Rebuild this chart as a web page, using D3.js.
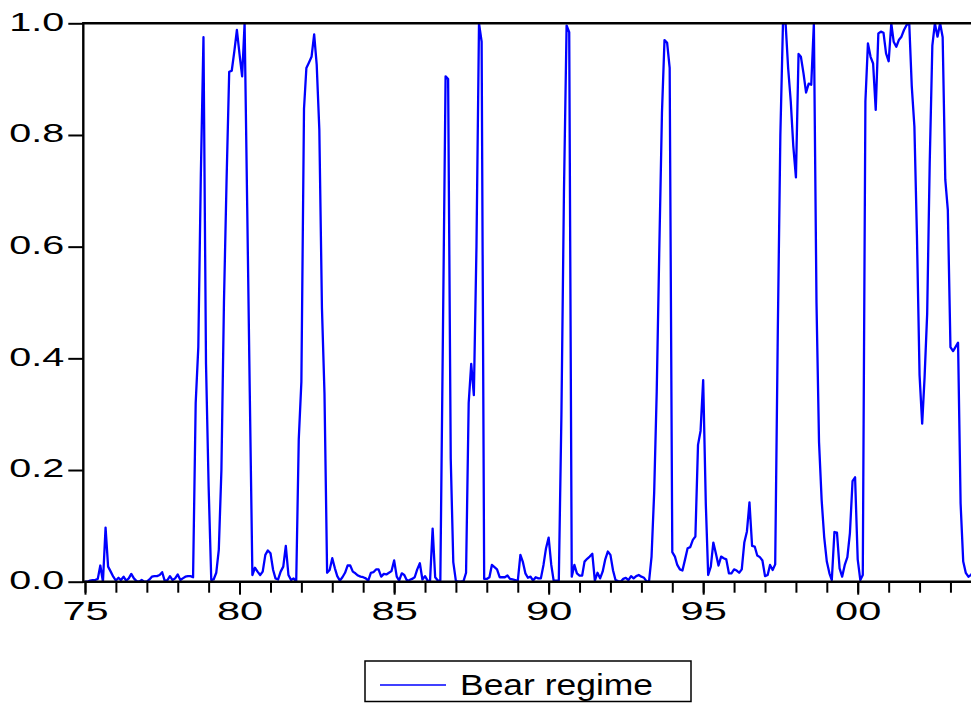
<!DOCTYPE html>
<html>
<head>
<meta charset="utf-8">
<script src="https://cdn.jsdelivr.net/npm/d3@7"></script>
<style>
  body { margin: 0; background: #fff; }
  text { font-family: "Liberation Sans", Arial, sans-serif; fill: #000; }
</style>
</head>
<body>
<svg id="chart" width="971" height="704"></svg>
<script>
let svg = d3.select('#chart');

// Smoothed probability of the bear regime, monthly from 1975M1
let startYear = 1975;
let bearProb = [
  0, 0, 0.002, 0.003, 0.003, 0.005, 0.029, 0, 0.097, 0.027, 0.018, 0.009,            // 1975
  0.002, 0.007, 0.003, 0.009, 0.002, 0.006, 0.014, 0.006, 0.001, 0, 0.003, 0,        // 1976
  0, 0.004, 0.009, 0.01, 0.01, 0.012, 0.017, 0.001, 0.003, 0.01, 0.003, 0.006,       // 1977
  0.013, 0.003, 0.006, 0.009, 0.01, 0.01, 0.008, 0.32, 0.42, 0.73, 0.975, 0.39,      // 1978
  0.17, 0.003, 0.004, 0.016, 0.057, 0.2, 0.5, 0.72, 0.913, 0.915, 0.95, 0.988,       // 1979
  0.945, 0.905, 1.0, 0.67, 0.34, 0.012, 0.025, 0.018, 0.012, 0.018, 0.048, 0.056,   // 1980
  0.051, 0.021, 0.006, 0.004, 0.018, 0.027, 0.064, 0.012, 0.003, 0.006, 0, 0.255,    // 1981
  0.358, 0.847, 0.92, 0.93, 0.94, 0.98, 0.926, 0.81, 0.49, 0.337, 0.016, 0.021,      // 1982
  0.042, 0.024, 0.01, 0.002, 0.008, 0.016, 0.029, 0.029, 0.018, 0.015, 0.011, 0.009, // 1983
  0.008, 0.006, 0.002, 0.016, 0.017, 0.022, 0.022, 0.009, 0.014, 0.013, 0.016, 0.019, // 1984
  0.038, 0.009, 0.002, 0.015, 0.012, 0.002, 0.003, 0.005, 0.008, 0.022, 0.033, 0.004, // 1985
  0.01, 0.002, 0.001, 0.095, 0.008, 0.002, 0.002, 0.45, 0.905, 0.9, 0.22, 0.035,     // 1986
  0.001, 0, 0, 0.001, 0.016, 0.32, 0.39, 0.334, 0.6, 1.0, 0.967, 0.005,              // 1987
  0.005, 0.008, 0.03, 0.026, 0.022, 0.008, 0.008, 0.008, 0.011, 0.005, 0.004, 0.003, // 1988
  0.001, 0.048, 0.036, 0.015, 0.007, 0.009, 0.002, 0.008, 0.006, 0.006, 0.03, 0.06,  // 1989
  0.079, 0.03, 0.002, 0.002, 0.002, 0.3, 0.7, 0.996, 0.984, 0.009, 0.03, 0.015,      // 1990
  0.011, 0.011, 0.036, 0.041, 0.045, 0.05, 0.002, 0.016, 0.006, 0.018, 0.04, 0.054,  // 1991
  0.048, 0.02, 0.003, 0.001, 0, 0.005, 0.007, 0.003, 0.01, 0.006, 0.01, 0.012,       // 1992
  0.009, 0.007, 0.001, 0, 0.045, 0.16, 0.34, 0.6, 0.84, 0.97, 0.965, 0.92,           // 1993
  0.053, 0.045, 0.03, 0.022, 0.02, 0.04, 0.06, 0.062, 0.075, 0.081, 0.245, 0.27,     // 1994
  0.361, 0.14, 0.012, 0.027, 0.07, 0.05, 0.029, 0.045, 0.042, 0.04, 0.015, 0.015,    // 1995
  0.022, 0.02, 0.016, 0.022, 0.07, 0.09, 0.142, 0.064, 0.063, 0.047, 0.044, 0.038,   // 1996
  0.01, 0.012, 0.03, 0.021, 0.031, 0.45, 0.8, 1.0, 1.0, 0.92, 0.86, 0.78,            // 1997
  0.724, 0.945, 0.94, 0.91, 0.876, 0.892, 0.89, 1.0, 0.5, 0.25, 0.146, 0.08,         // 1998
  0.036, 0.015, 0.003, 0.089, 0.088, 0.024, 0.009, 0.03, 0.044, 0.087, 0.18, 0.187,  // 1999
  0.04, 0.003, 0.012, 0.86, 0.964, 0.94, 0.928, 0.845, 0.982, 0.985, 0.983, 0.946,   // 2000
  0.932, 1.0, 0.967, 0.958, 0.97, 0.976, 0.988, 0.997, 1.0, 0.887, 0.815, 0.62,      // 2001
  0.37, 0.283, 0.365, 0.48, 0.75, 0.96, 1.0, 0.976, 1.0, 0.975, 0.72, 0.666,         // 2002
  0.42, 0.413, 0.42, 0.428, 0.14, 0.036, 0.016, 0.009, 0.012, 0.02                   // 2003
];

let yTicks = [0, 0.2, 0.4, 0.6, 0.8, 1.0];
let majorYears = [1975, 1980, 1985, 1990, 1995, 2000];
let majorLabels = ['75', '80', '85', '90', '95', '00'];
let minorYears = d3.range(1975, 2004);
let seriesName = 'Bear regime';

let months = bearProb.map((v, i) => new Date(startYear, i, 1));

// plot box (right side runs off the picture, like the original)
let plotLeft = 83.3, plotRight = 976, plotTop = 23.3, plotBottom = 581.7;

let x = d3.scaleTime()
          .domain([new Date(1975, 0, 1), new Date(2000, 0, 1)])
          .range([85, 857.7]);
let y = d3.scaleLinear()
          .domain([0, 1])
          .range([plotBottom, plotTop]);

// stretch axis text sideways, the original font is wide
function widen(sel, k) {
  sel.each(function() {
    let w = this.getComputedTextLength();
    d3.select(this).attr('textLength', w * k).attr('lengthAdjust', 'spacingAndGlyphs');
  });
}

// y axis
let yAxis = svg.append('g')
               .attr('transform', `translate(${plotLeft},0)`)
               .call(d3.axisLeft(y).tickValues(yTicks).tickSize(15).tickPadding(4)
                       .tickFormat(d3.format('.1f')));
yAxis.select('.domain').remove();
yAxis.selectAll('line').attr('stroke', '#000').attr('stroke-width', 2);
yAxis.selectAll('text').attr('font-size', 25.5).attr('dy', '0.27em')
     .style('font-family', '"Liberation Sans", Arial, sans-serif')
     .call(widen, 1.55);

// x axis, minor ticks every year then labelled ticks every 5 years
let xMinor = svg.append('g')
                .attr('transform', `translate(0,${plotBottom})`)
                .call(d3.axisBottom(x).tickValues(minorYears.map(yr => new Date(yr, 0, 1)))
                        .tickSize(11).tickFormat(''));
xMinor.select('.domain').remove();
xMinor.selectAll('line').attr('stroke', '#000').attr('stroke-width', 2);

let xAxis = svg.append('g')
               .attr('transform', `translate(0,${plotBottom})`)
               .call(d3.axisBottom(x).tickValues(majorYears.map(yr => new Date(yr, 0, 1)))
                       .tickSize(13).tickPadding(7)
                       .tickFormat((d, i) => majorLabels[i]));
xAxis.select('.domain').remove();
xAxis.selectAll('line').attr('stroke', '#000').attr('stroke-width', 2);
xAxis.selectAll('text').attr('font-size', 26)
     .style('font-family', '"Liberation Sans", Arial, sans-serif')
     .call(widen, 1.6);

// series
svg.append('clipPath').attr('id', 'plotclip')
   .append('rect')
   .attr('x', plotLeft).attr('y', plotTop - 3)
   .attr('width', plotRight - plotLeft).attr('height', plotBottom - plotTop + 6);

let line = d3.line()
             .x((d, i) => x(months[i]))
             .y(d => y(d));

svg.append('path')
   .datum(bearProb)
   .attr('clip-path', 'url(#plotclip)')
   .attr('fill', 'none')
   .attr('stroke', '#0000ff')
   .attr('stroke-width', 2.3)
   .attr('stroke-linejoin', 'round')
   .attr('d', line);

// frame
svg.append('path')
   .attr('fill', 'none')
   .attr('stroke', '#000')
   .attr('stroke-width', 2.4)
   .attr('d', `M${plotRight},${plotTop}H${plotLeft}V${plotBottom}H${plotRight}`);

// legend
let legend = svg.append('g');
legend.append('rect')
      .attr('x', 365).attr('y', 661)
      .attr('width', 326).attr('height', 40.5)
      .attr('fill', 'none').attr('stroke', '#000').attr('stroke-width', 1.5);
legend.append('line')
      .attr('x1', 380).attr('x2', 446)
      .attr('y1', 685).attr('y2', 685)
      .attr('stroke', '#0000ff').attr('stroke-width', 1.5);
legend.append('text')
      .attr('x', 460).attr('y', 695)
      .attr('font-size', 30)
      .attr('textLength', 193).attr('lengthAdjust', 'spacingAndGlyphs')
      .text(seriesName);
</script>
</body>
</html>
